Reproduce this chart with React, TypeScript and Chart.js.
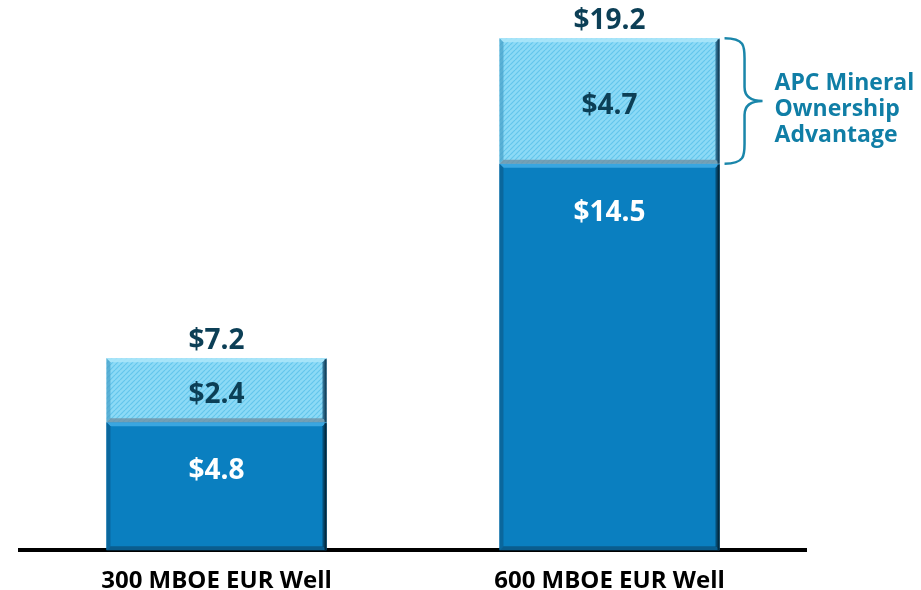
import React, { useEffect, useRef } from 'react';
import { Chart, registerables } from 'chart.js';

Chart.register(...registerables);

const categories = ['300 MBOE EUR Well', '600 MBOE EUR Well'];
const baseValues = [4.8, 14.5];
const mineralValues = [2.4, 4.7];
const totalValues = [7.2, 19.2];
const annotationLines = ['APC Mineral', 'Ownership', 'Advantage'];
const yMax = 20;

const FONT = '"Open Sans", Lato, sans-serif';
const DARK = '#0c3f56';
const TEAL = '#107ea6';

function makeHatch(): CanvasPattern | string {
  const c = document.createElement('canvas');
  c.width = 5;
  c.height = 5;
  const g = c.getContext('2d');
  if (!g) return '#7fd4f3';
  g.fillStyle = '#8cdaf6';
  g.fillRect(0, 0, 5, 5);
  g.strokeStyle = '#64c6ec';
  g.lineWidth = 1.2;
  for (const off of [-5, 0, 5]) {
    g.beginPath();
    g.moveTo(off, 5);
    g.lineTo(off + 5, 0);
    g.stroke();
  }
  const p = g.createPattern(c, 'repeat');
  return p || '#7fd4f3';
}

function bevel(
  ctx: CanvasRenderingContext2D,
  l: number, t: number, r: number, b: number, w: number,
  cols: { top: string; left: string; right: string; bottom: string; outer: string }
) {
  const poly = (pts: number[][], col: string) => {
    ctx.beginPath();
    ctx.moveTo(pts[0][0], pts[0][1]);
    for (let i = 1; i < pts.length; i++) ctx.lineTo(pts[i][0], pts[i][1]);
    ctx.closePath();
    ctx.fillStyle = col;
    ctx.fill();
  };
  poly([[l, t], [r, t], [r - w, t + w], [l + w, t + w]], cols.top);
  poly([[l, t], [l + w, t + w], [l + w, b - w], [l, b]], cols.left);
  poly([[l, b], [r, b], [r - w, b - w], [l + w, b - w]], cols.bottom);
  poly([[r, t], [r, b], [r - w, b - w], [r - w, t + w]], cols.right);
  ctx.fillStyle = cols.outer;
  ctx.fillRect(r - 2, t + 1, 2, b - t - 1);
}

const decorPlugin = {
  id: 'decor',
  afterDatasetsDraw(chart: any) {
    const ctx: CanvasRenderingContext2D = chart.ctx;
    const m0 = chart.getDatasetMeta(0);
    const m1 = chart.getDatasetMeta(1);
    ctx.save();
    m0.data.forEach((el: any, i: number) => {
      const p = el.getProps(['x', 'y', 'base', 'width'], true);
      const l = p.x - p.width / 2, r = p.x + p.width / 2;
      bevel(ctx, l, p.y, r, p.base, 4, {
        top: '#3aa6e0', left: '#0a679d', right: '#064b72', bottom: '#0a5d8e', outer: '#032a40',
      });
      const q = m1.data[i].getProps(['x', 'y', 'base', 'width'], true);
      bevel(ctx, l, q.y, r, q.base, 4, {
        top: 'rgba(170,230,250,0.9)', left: 'rgba(70,160,200,0.7)', right: 'rgba(30,90,125,0.85)',
        bottom: 'rgba(110,145,165,0.8)', outer: 'rgba(20,60,85,0.85)',
      });
    });
    ctx.textAlign = 'center';
    ctx.textBaseline = 'middle';
    m0.data.forEach((el: any, i: number) => {
      const p = el.getProps(['x', 'y', 'base'], true);
      const cy = Math.min((p.y + p.base) / 2, p.y + 49);
      ctx.font = `bold 28px ${FONT}`;
      ctx.fillStyle = '#ffffff';
      ctx.fillText('$' + baseValues[i].toFixed(1), p.x, cy);
      const q = m1.data[i].getProps(['x', 'y', 'base'], true);
      ctx.fillStyle = DARK;
      ctx.fillText('$' + mineralValues[i].toFixed(1), q.x, (q.y + q.base) / 2 + 5);
      ctx.font = `bold 28px ${FONT}`;
      ctx.fillText('$' + totalValues[i].toFixed(1), q.x, q.y - 17);
    });
    // brace + annotation on the larger bar
    const last = m1.data.length - 1;
    const q = m1.data[last].getProps(['x', 'y', 'base', 'width'], true);
    const bx = q.x + q.width / 2 + 5;
    const top = q.y, bot = q.base;
    const mid = (top + bot) / 2;
    const sx = bx + 20, tip = bx + 38;
    ctx.strokeStyle = '#1a86aa';
    ctx.lineWidth = 2.5;
    ctx.beginPath();
    ctx.moveTo(bx, top);
    ctx.bezierCurveTo(sx, top, sx, top + 8, sx, top + 20);
    ctx.lineTo(sx, mid - 14);
    ctx.bezierCurveTo(sx, mid - 2, tip - 8, mid, tip, mid);
    ctx.bezierCurveTo(tip - 8, mid, sx, mid + 2, sx, mid + 14);
    ctx.lineTo(sx, bot - 20);
    ctx.bezierCurveTo(sx, bot - 8, sx, bot, bx, bot);
    ctx.stroke();
    ctx.fillStyle = TEAL;
    ctx.font = `bold 23px ${FONT}`;
    ctx.textAlign = 'left';
    annotationLines.forEach((line, k) => {
      ctx.fillText(line, tip + 12, mid + (k - 1) * 26 + 8);
    });
    ctx.restore();
  },
};

export default function App() {
  const ref = useRef<HTMLCanvasElement>(null);
  useEffect(() => {
    if (!ref.current) return;
    const hatch = makeHatch();
    const chart = new Chart(ref.current, {
      type: 'bar',
      data: {
        labels: categories,
        datasets: [
          { label: 'Base', data: baseValues, backgroundColor: '#0a7fc0', borderWidth: 0 },
          { label: 'APC Mineral Ownership Advantage', data: mineralValues, backgroundColor: hatch as any, borderWidth: 0 },
        ],
      },
      options: {
        responsive: false,
        animation: false,
        devicePixelRatio: 1,
        layout: { padding: { top: 17, left: 20, right: 115, bottom: 0 } },
        datasets: { bar: { barPercentage: 0.56, categoryPercentage: 1 } },
        plugins: { legend: { display: false }, tooltip: { enabled: false }, title: { display: false } },
        scales: {
          x: {
            stacked: true,
            z: 1,
            grid: { display: false },
            border: { display: true, color: '#000000', width: 4 },
            ticks: {
              color: '#000000',
              font: { family: FONT, size: 24, weight: 'bold', lineHeight: 1.2 },
              padding: 9,
            },
          },
          y: { stacked: true, display: false, min: 0, max: yMax },
        },
      },
      plugins: [decorPlugin],
    });
    return () => chart.destroy();
  }, []);
  return (
    <div style={{ position: 'fixed', left: 0, top: 0, width: 921, height: 590, overflow: 'hidden', background: '#ffffff' }}>
      <canvas ref={ref} width={921} height={605} style={{ display: 'block', width: 921, height: 605 }} />
    </div>
  );
}
